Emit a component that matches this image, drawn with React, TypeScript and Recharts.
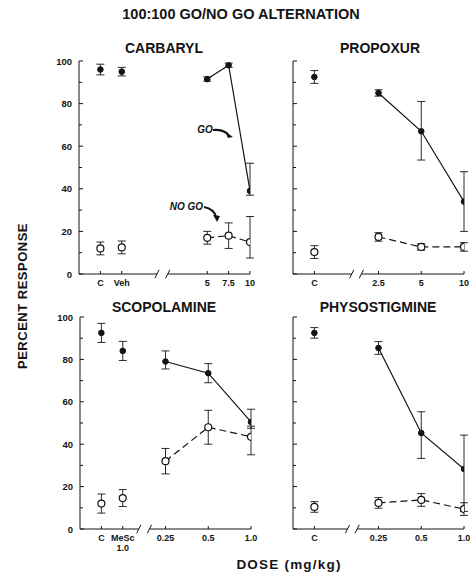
import React from "react";
import {
  LineChart,
  Line,
  XAxis,
  YAxis,
  ErrorBar,
  ReferenceLine,
  ReferenceDot,
} from "recharts";

const INK = "#141414";
const FONT = "'Liberation Sans', Arial, Helvetica, sans-serif";

// y ticks 0..100, label only every 20
const yTicks = [0, 10, 20, 30, 40, 50, 60, 70, 80, 90, 100];

// CARBARYL
const carbarylLabels = ["C", "Veh", "5", "7.5", "10"];
const carbarylGo = [96, 95, 91.5, 98, 39];
const carbarylGoErr = [[2.5, 2.5], [2, 2], [1, 1], [1, 1], [2, 13]];
const carbarylNoGo = [12, 12.5, 17, 18, 15];
const carbarylNoGoErr = [[3, 3], [3, 3], [3, 3], [6, 6], [7.5, 12]];

// PROPOXUR
const propoxurLabels = ["C", "2.5", "5", "10"];
const propoxurGo = [92.5, 85, 67, 34];
const propoxurGoErr = [[3, 3], [1.5, 1.5], [13.5, 14], [14, 14]];
const propoxurNoGo = [10.3, 17.4, 12.7, 12.7];
const propoxurNoGoErr = [[3, 3], [2, 2], [1.5, 1.5], [2, 2]];

// SCOPOLAMINE
const scopolamineLabels = ["C", "MeSc\n1.0", "0.25", "0.5", "1.0"];
const scopolamineGo = [92.5, 84, 79, 73.5, 50.5];
const scopolamineGoErr = [[4.5, 4.5], [4.5, 4.5], [3.5, 5], [4.5, 4.5], [3, 6]];
const scopolamineNoGo = [12, 14.6, 32, 48, 43.5];
const scopolamineNoGoErr = [[4.5, 4.5], [4, 4], [6, 6], [8, 8], [8.5, 5]];

// PHYSOSTIGMINE
const physoLabels = ["C", "0.25", "0.5", "1.0"];
const physoGo = [92.5, 85.4, 45.3, 28.3];
const physoGoErr = [[2.5, 2.5], [3, 3], [12, 10], [20, 16]];
const physoNoGo = [10.4, 12.3, 13.7, 9.4];
const physoNoGoErr = [[2.5, 2.5], [2.5, 2.5], [3, 3], [3, 3]];

const YTick = (p: any) => {
  const ax = p.x + 7;
  const major = p.payload.value % 20 === 0;
  return (
    <g>
      <line x1={ax} x2={ax + (major ? 4 : 3)} y1={p.y} y2={p.y} stroke={INK} strokeWidth={1} />
      {p.show && major && (
        <text x={p.x} y={p.y + 3.5} textAnchor="end" fontSize={9.5} fontWeight="bold" fontFamily={FONT} fill={INK}>
          {p.payload.value}
        </text>
      )}
    </g>
  );
};

const XTick = (p: any) => {
  const ay = p.y - 4;
  const lines = (p.names[String(p.payload.value)] ?? "").split("\n");
  return (
    <g>
      <line x1={p.x} x2={p.x} y1={ay} y2={ay - 3} stroke={INK} strokeWidth={1} />
      <text x={p.x} y={ay + 12} textAnchor="middle" fontSize={9} fontWeight="bold" fontFamily={FONT} fill={INK}>
        {lines.map((l: string, i: number) => (
          <tspan key={i} x={p.x} dy={i ? 10 : 0}>
            {l}
          </tspan>
        ))}
      </text>
    </g>
  );
};

const GoNote = (p: any) => (
  <g>
    <text x={p.cx - 20} y={p.cy - 4} textAnchor="end" fontSize={10} fontWeight="bold" fontStyle="italic" fontFamily={FONT} fill={INK}>
      GO
    </text>
    <path d={`M${p.cx - 20},${p.cy - 7} Q${p.cx - 11},${p.cy - 8} ${p.cx - 5},${p.cy - 3}`} stroke={INK} strokeWidth={2} fill="none" />
    <polygon points={`${p.cx},${p.cy} ${p.cx - 8},${p.cy - 6} ${p.cx - 5},${p.cy + 1}`} fill={INK} />
  </g>
);

const NoGoNote = (p: any) => (
  <g>
    <text x={p.cx - 14} y={p.cy - 12} textAnchor="end" fontSize={10} fontWeight="bold" fontStyle="italic" fontFamily={FONT} fill={INK}>
      NO GO
    </text>
    <path d={`M${p.cx - 13},${p.cy - 15} Q${p.cx - 3},${p.cy - 13} ${p.cx - 1},${p.cy - 5}`} stroke={INK} strokeWidth={2} fill="none" />
    <polygon points={`${p.cx},${p.cy} ${p.cx - 4},${p.cy - 7} ${p.cx + 3},${p.cy - 6}`} fill={INK} />
  </g>
);

type PanelProps = {
  labels: string[];
  go: number[];
  goErr: number[][];
  noGo: number[];
  noGoErr: number[][];
  nCtl: number;
  doseStart: number;
  doseStep: number;
  brk: [number, number];
  left: number;
  top: number;
  plotH: number;
  yLabels: boolean;
  notes?: boolean;
};

function Panel(props: PanelProps) {
  const { labels, go, goErr, noGo, noGoErr, nCtl, doseStart, doseStep, brk } = props;
  const slots = labels.map((_, i) => (i < nCtl ? i + 1 : doseStart + (i - nCtl) * doseStep));
  const names: Record<string, string> = {};
  slots.forEach((s, i) => (names[String(s)] = labels[i]));

  const rows = (vals: number[], errs: number[][]) => vals.map((v, i) => ({ x: slots[i], v, e: errs[i] }));
  const goRows = rows(go, goErr);
  const noGoRows = rows(noGo, noGoErr);

  const filled = { r: 2.8, fill: INK, stroke: INK, strokeWidth: 1, strokeDasharray: "0" };
  const open = { r: 3.5, fill: "#fff", stroke: INK, strokeWidth: 1.2, strokeDasharray: "0" };
  const bar = <ErrorBar dataKey="e" width={4} stroke={INK} strokeWidth={0.9} direction="y" />;

  // lines + error bars first, dots drawn on top afterwards
  const series = [
    { d: noGoRows.slice(0, nCtl), line: false, dot: open },
    { d: noGoRows.slice(nCtl), line: true, dash: "7 4", dot: open },
    { d: goRows.slice(0, nCtl), line: false, dot: filled },
    { d: goRows.slice(nCtl), line: true, dot: filled },
  ];

  return (
    <div style={{ position: "absolute", left: props.left - 30, top: props.top - 5 }}>
      <LineChart
        width={211}
        height={props.plotH + 40}
        margin={{ top: 5, right: 10, bottom: 0, left: 0 }}
        style={{ overflow: "visible" }}
      >
        <XAxis
          type="number"
          dataKey="x"
          domain={[0, 8]}
          ticks={slots}
          interval={0}
          axisLine={false}
          tickSize={0}
          tickMargin={4}
          height={35}
          allowDataOverflow
          tick={(p: any) => <XTick {...p} names={names} />}
        />
        <YAxis
          type="number"
          domain={[0, 100]}
          ticks={yTicks}
          interval={0}
          width={30}
          axisLine={{ stroke: INK, strokeWidth: 1 }}
          tickSize={0}
          tickMargin={7}
          tick={(p: any) => <YTick {...p} show={props.yLabels} />}
        />
        <ReferenceLine segment={[{ x: 0, y: 0 }, { x: brk[0], y: 0 }]} stroke={INK} strokeWidth={1} ifOverflow="visible" />
        <ReferenceLine segment={[{ x: brk[1], y: 0 }, { x: 8, y: 0 }]} stroke={INK} strokeWidth={1} ifOverflow="visible" />
        <ReferenceLine segment={[{ x: brk[0] - 0.1, y: -2 }, { x: brk[0] + 0.1, y: 2 }]} stroke={INK} strokeWidth={1} ifOverflow="visible" />
        <ReferenceLine segment={[{ x: brk[1] - 0.1, y: -2 }, { x: brk[1] + 0.1, y: 2 }]} stroke={INK} strokeWidth={1} ifOverflow="visible" />

        {series.map((s, i) => (
          <Line
            key={"l" + i}
            data={s.d}
            dataKey="v"
            type="linear"
            stroke={s.line ? INK : "none"}
            strokeWidth={1.2}
            strokeDasharray={s.dash}
            dot={false}
            activeDot={false}
            isAnimationActive={false}
          >
            {bar}
          </Line>
        ))}
        {series.map((s, i) => (
          <Line
            key={"d" + i}
            data={s.d}
            dataKey="v"
            stroke="none"
            dot={s.dot}
            activeDot={false}
            isAnimationActive={false}
          />
        ))}

        {props.notes && <ReferenceDot x={7.2} y={64.3} r={0} ifOverflow="visible" shape={GoNote} />}
        {props.notes && <ReferenceDot x={6.46} y={24.4} r={0} ifOverflow="visible" shape={NoGoNote} />}
      </LineChart>
    </div>
  );
}

export default function App() {
  const title = { fontFamily: FONT, fontWeight: "bold", fill: INK } as const;
  return (
    <div style={{ position: "absolute", left: 0, top: 0, width: 470, height: 577, background: "#fff", overflow: "hidden" }}>
      <Panel labels={carbarylLabels} go={carbarylGo} goErr={carbarylGoErr} noGo={carbarylNoGo} noGoErr={carbarylNoGoErr}
        nCtl={2} doseStart={6} doseStep={1} brk={[3.65, 4.15]} left={79} top={61} plotH={213} yLabels notes />
      <Panel labels={propoxurLabels} go={propoxurGo} goErr={propoxurGoErr} noGo={propoxurNoGo} noGoErr={propoxurNoGoErr}
        nCtl={1} doseStart={4} doseStep={2} brk={[2.75, 3.2]} left={293} top={61} plotH={213} yLabels={false} />
      <Panel labels={scopolamineLabels} go={scopolamineGo} goErr={scopolamineGoErr} noGo={scopolamineNoGo} noGoErr={scopolamineNoGoErr}
        nCtl={2} doseStart={4} doseStep={2} brk={[2.75, 3.25]} left={80} top={317} plotH={212} yLabels />
      <Panel labels={physoLabels} go={physoGo} goErr={physoGoErr} noGo={physoNoGo} noGoErr={physoNoGoErr}
        nCtl={1} doseStart={4} doseStep={2} brk={[2.55, 3.0]} left={293} top={317} plotH={212} yLabels={false} />

      <svg width={470} height={577} style={{ position: "absolute", left: 0, top: 0, pointerEvents: "none" }}>
        <text x={241} y={19} textAnchor="middle" fontSize={14.5} {...title}>100:100 GO/NO GO ALTERNATION</text>
        <text x={164} y={53} textAnchor="middle" fontSize={14} {...title}>CARBARYL</text>
        <text x={380} y={53} textAnchor="middle" fontSize={14} {...title}>PROPOXUR</text>
        <text x={164} y={312} textAnchor="middle" fontSize={14} {...title}>SCOPOLAMINE</text>
        <text x={378} y={312} textAnchor="middle" fontSize={14} {...title}>PHYSOSTIGMINE</text>
        <text transform="translate(27,296) rotate(-90)" textAnchor="middle" fontSize={13} letterSpacing={0.5} {...title}>PERCENT RESPONSE</text>
        <text x={289} y={569} textAnchor="middle" fontSize={13.5} letterSpacing={1.2} {...title}>DOSE (mg/kg)</text>
      </svg>
    </div>
  );
}
